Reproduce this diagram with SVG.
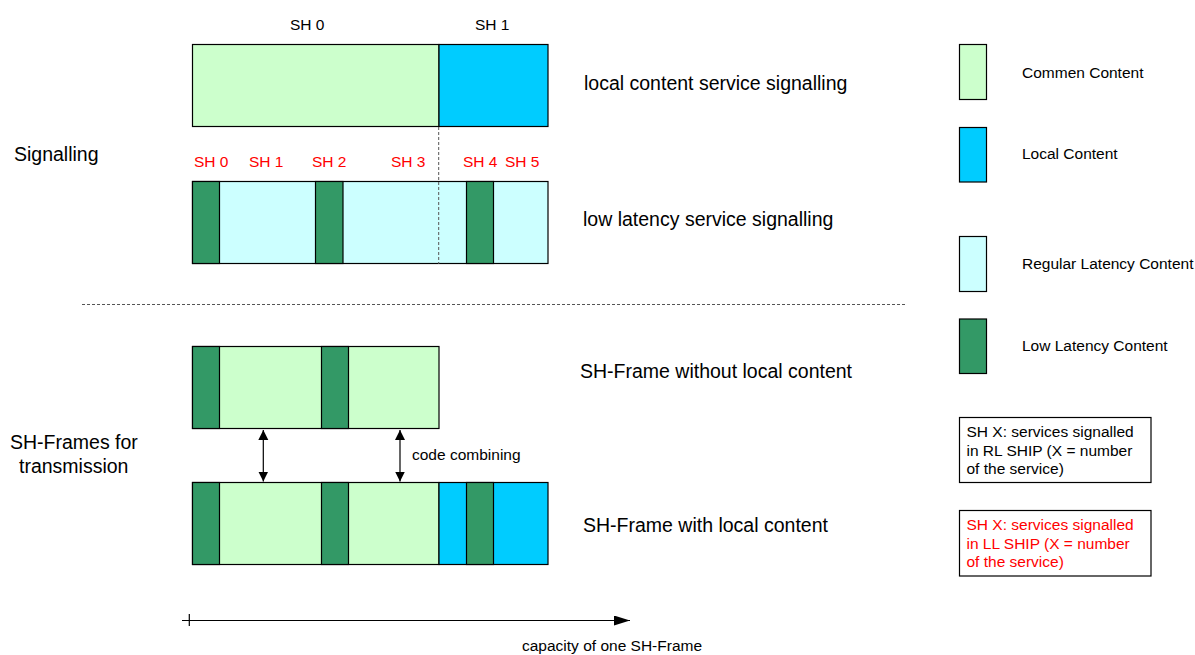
<svg xmlns="http://www.w3.org/2000/svg" width="1195" height="655" viewBox="0 0 1195 655">
<style>
text{font-family:"Liberation Sans",Arial,sans-serif;fill:#000}
.big{font-size:19.5px}
.sm{font-size:15.5px}
.red{fill:#ff0000}
.cc{fill:#ccffcc;stroke:#000;stroke-width:1.2}
.lc{fill:#00ccff;stroke:#000;stroke-width:1.2}
.rl{fill:#ccffff;stroke:#000;stroke-width:1.2}
.ll{fill:#339966;stroke:#000;stroke-width:1.2}
.dash{stroke:#555;stroke-width:1;stroke-dasharray:3,2;fill:none}
.ln{stroke:#000;stroke-width:1.2;fill:none}
</style>
<defs>
<marker id="ah" markerWidth="12" markerHeight="12" refX="10" refY="5" orient="auto-start-reverse" markerUnits="userSpaceOnUse">
<path d="M0,0 L10,5 L0,10 Z" fill="#000"/>
</marker>
<marker id="ah2" markerWidth="18" markerHeight="12" refX="16" refY="5" orient="auto" markerUnits="userSpaceOnUse">
<path d="M0,0 L16,5 L0,10 Z" fill="#000"/>
</marker>
</defs>

<g id="section-labels">
<text class="big" x="14" y="161">Signalling</text>
<text class="big" x="10" y="449">SH-Frames for</text>
<text class="big" x="19" y="473">transmission</text>
</g>

<g id="local-signalling">
<text class="sm" x="290" y="30">SH 0</text>
<text class="sm" x="475" y="30">SH 1</text>
<rect class="cc" x="192.5" y="44.5" width="246.5" height="82"/>
<rect class="lc" x="439" y="44.5" width="109" height="82"/>
<text class="big" x="584" y="90">local content service signalling</text>
</g>

<g id="low-latency-signalling">
<text class="sm red" x="194" y="167">SH 0</text>
<text class="sm red" x="249" y="167">SH 1</text>
<text class="sm red" x="312" y="167">SH 2</text>
<text class="sm red" x="391" y="167">SH 3</text>
<text class="sm red" x="463" y="167">SH 4</text>
<text class="sm red" x="505" y="167">SH 5</text>
<rect class="rl" x="192.5" y="181.5" width="355.5" height="82"/>
<rect class="ll" x="192.5" y="181.5" width="27" height="82"/>
<rect class="ll" x="315.5" y="181.5" width="27.5" height="82"/>
<rect class="ll" x="466.5" y="181.5" width="27" height="82"/>
<text class="big" x="583" y="226">low latency service signalling</text>
</g>

<g id="frame-without-local">
<rect class="cc" x="192.5" y="346.5" width="246.5" height="82"/>
<rect class="ll" x="192.5" y="346.5" width="27" height="82"/>
<rect class="ll" x="321.5" y="346.5" width="27" height="82"/>
<text class="big" x="580" y="378">SH-Frame without local content</text>
</g>

<g id="frame-with-local">
<rect class="cc" x="192.5" y="482.5" width="246.5" height="82"/>
<rect class="ll" x="192.5" y="482.5" width="27" height="82"/>
<rect class="ll" x="321.5" y="482.5" width="27" height="82"/>
<rect class="lc" x="439" y="482.5" width="109" height="82"/>
<rect class="ll" x="466.5" y="482.5" width="27" height="82"/>
<text class="big" x="583" y="532">SH-Frame with local content</text>
</g>

<g id="connectors">
<line class="dash" x1="438.7" y1="127" x2="438.7" y2="264"/>
<line class="dash" x1="82" y1="304.5" x2="905" y2="304.5"/>
<line class="ln" x1="263.3" y1="430" x2="263.3" y2="481.5" marker-start="url(#ah)" marker-end="url(#ah)"/>
<line class="ln" x1="400" y1="430" x2="400" y2="481.5" marker-start="url(#ah)" marker-end="url(#ah)"/>
<text class="sm" x="412" y="460">code combining</text>
<line class="ln" x1="182" y1="620.5" x2="630" y2="620.5" marker-end="url(#ah2)"/>
<line class="ln" x1="189.3" y1="614" x2="189.3" y2="626"/>
<text class="sm" x="522" y="651">capacity of one SH-Frame</text>
</g>

<g id="legend-common">
<rect class="cc" x="959.5" y="44.5" width="27" height="55"/>
<text class="sm" x="1022" y="78">Commen Content</text>
</g>
<g id="legend-local">
<rect class="lc" x="959.5" y="127.5" width="27" height="54.5"/>
<text class="sm" x="1022" y="159">Local Content</text>
</g>
<g id="legend-regular">
<rect class="rl" x="959.5" y="236.5" width="27" height="55"/>
<text class="sm" x="1022" y="269">Regular Latency Content</text>
</g>
<g id="legend-low">
<rect class="ll" x="959.5" y="319" width="27" height="54.5"/>
<text class="sm" x="1022" y="351">Low Latency Content</text>
</g>

<g id="note-rl">
<rect x="959.5" y="417.5" width="191.5" height="65" fill="#fff" stroke="#000" stroke-width="1.2"/>
<text class="sm" x="966.5" y="437">SH X: services signalled</text>
<text class="sm" x="966.5" y="455.5">in RL SHIP (X = number</text>
<text class="sm" x="966.5" y="474">of the service)</text>
</g>
<g id="note-ll">
<rect x="959.5" y="510.5" width="191.5" height="65.5" fill="#fff" stroke="#000" stroke-width="1.2"/>
<text class="sm red" x="966.5" y="530">SH X: services signalled</text>
<text class="sm red" x="966.5" y="548.5">in LL SHIP (X = number</text>
<text class="sm red" x="966.5" y="567">of the service)</text>
</g>
</svg>
